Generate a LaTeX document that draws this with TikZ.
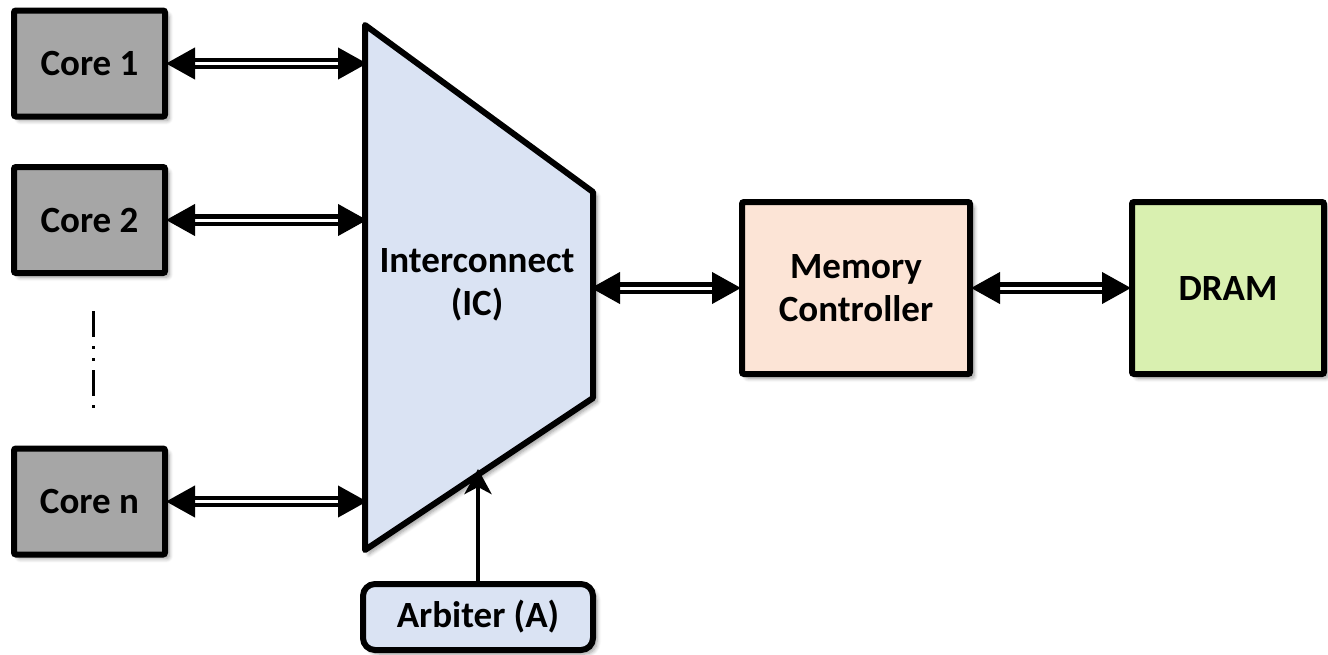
\documentclass[tikz,border=0pt]{standalone}
\usepackage{fontspec}
\setmainfont{Carlito}
\usetikzlibrary{arrows.meta,shadows.blur,positioning}

\definecolor{coregray}{HTML}{A6A6A6}
\definecolor{icblue}{HTML}{DAE3F3}
\definecolor{mcpeach}{HTML}{FCE4D6}
\definecolor{dramgreen}{HTML}{D9F0B0}

\tikzset{
  label font/.style={font=\fontsize{37}{44}\selectfont\bfseries},
  soft shadow/.style={blur shadow={shadow xshift=4pt, shadow yshift=-4pt,
      shadow blur steps=6, shadow blur radius=4pt, shadow opacity=40}},
  block/.style={draw=black, line width=6pt, rounded corners=2pt,
      inner sep=0pt, label font, align=center, soft shadow},
  corebox/.style={block, fill=coregray, minimum width=151pt, minimum height=106pt},
  bus/.style={draw=black, double=white, line width=4.2pt, double distance=3pt,
      {Triangle[length=29pt,width=31pt]}-{Triangle[length=29pt,width=31pt]},
      shorten <=-2pt, shorten >=-2pt},
  ctrl/.style={draw=black, line width=4.5pt,
      -{Stealth[length=25pt,width=27pt,inset=7pt]}},
}

\begin{document}
\begin{tikzpicture}[x=1pt,y=-1pt]
  \useasboundingbox (0,0) rectangle (1328,654);

  % processor cores
  \node[corebox] (c1) at (89.5,63.5) {Core 1};
  \node[corebox] (c2) at (89.5,220) {Core 2};
  \node[corebox] (cn) at (89.5,501.5) {Core n};

  % elided cores in between
  \draw[line width=3pt, dash pattern=on 26pt off 9pt on 3pt off 9pt on 3pt off 9pt]
    (93,311) -- (93,411);

  % interconnect trapezoid
  \coordinate (tl) at (365,25);
  \coordinate (tr) at (593,192);
  \coordinate (br) at (593,398);
  \coordinate (bl) at (365,550);
  \path[fill=icblue, draw=black, line width=6pt, line join=round, soft shadow]
    (tl) -- (tr) -- (br) -- (bl) -- cycle;
  \node[label font, align=center] (ic) at (477,285) {Interconnect\\[-1pt](IC)};
  \coordinate (icr) at (593,288);

  % memory side
  \node[block, fill=mcpeach, minimum width=228pt, minimum height=172pt]
    (mc) at (856,288) {Memory\\[-1pt]Controller};
  \node[block, fill=dramgreen, minimum width=192pt, minimum height=172pt]
    (dram) at (1228,288) {DRAM};

  % arbiter
  \node[block, fill=icblue, rounded corners=12pt, minimum width=230pt, minimum height=66pt]
    (arb) at (478,617) {Arbiter (A)};

  % buses
  \draw[bus] (c1.east) -- (c1.east -| tl);
  \draw[bus] (c2.east) -- (c2.east -| tl);
  \draw[bus] (cn.east) -- (cn.east -| tl);
  \draw[bus] (icr) -- (mc.west);
  \draw[bus] (mc.east) -- (dram.west);

  % arbitration signal into the interconnect
  \coordinate (arbin) at (478,469);
  \draw[ctrl] (arb.north -| arbin) -- (arbin);
\end{tikzpicture}
\end{document}
